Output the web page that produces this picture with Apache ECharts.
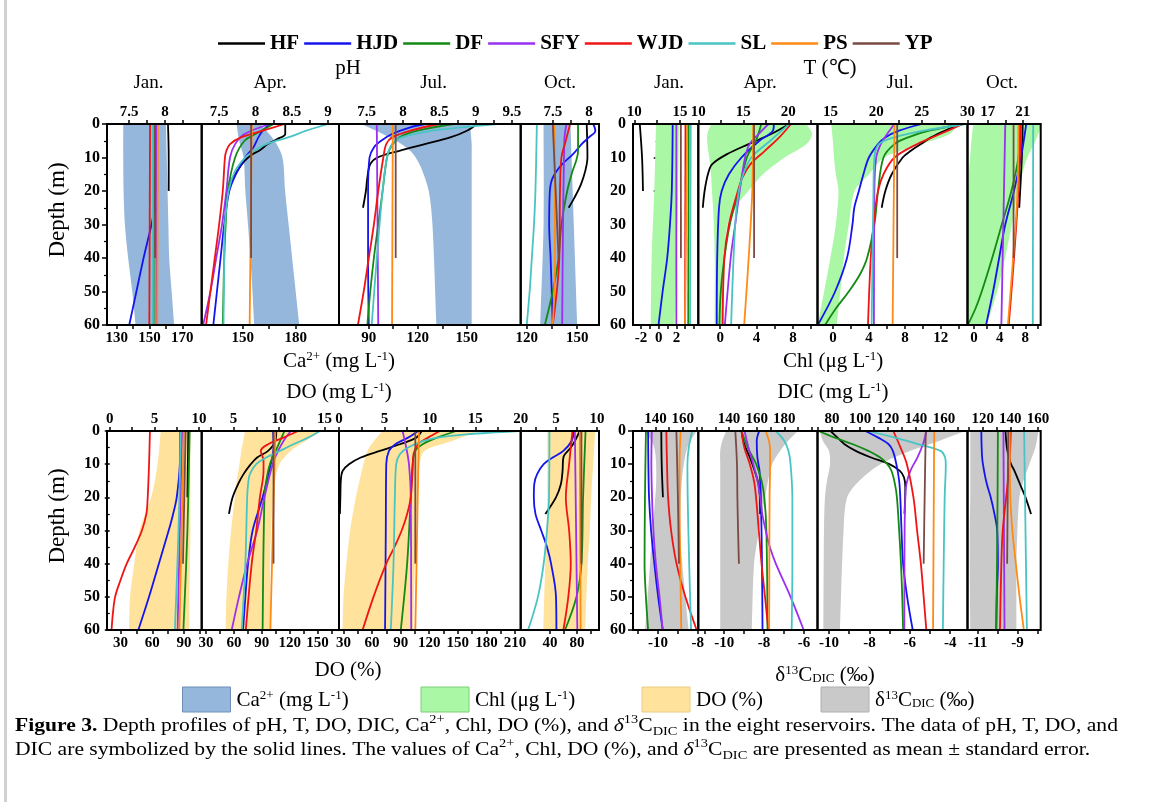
<!DOCTYPE html>
<html><head><meta charset="utf-8">
<script src="https://cdn.jsdelivr.net/npm/echarts/dist/echarts.min.js"></script>
<style>html,body{margin:0;padding:0;background:#fff}#c{width:1167px;height:802px}</style>
</head><body><div id="c"></div>
<script>
// ---------------- DATA ----------------
const RES = ['HF','HJD','DF','SFY','WJD','SL','PS','YP'];
const RES_COLORS = ['#000000','#1414f0','#138a13','#9b30f0','#f01414','#48c4c4','#ff8a14','#7a4a44'];
const MONTHS = ['Jan.','Apr.','Jul.','Oct.'];

// line profiles: one entry per reservoir (RES order), points are [depth, value]
const PH_JAN = [
 [[0,8.04],[10,8.05],[20,8.05]],
 [[0,7.87],[20,7.86],[25,7.85],[30,7.81],[40,7.7],[50,7.6],[60,7.5]],
 [[0,7.84],[60,7.84]],
 [[0,7.88],[60,7.88]],
 [[0,7.79],[60,7.78]],
 [[0,7.83],[60,7.83]],
 [[0,7.9],[60,7.89]],
 [[0,7.86],[40,7.86]]];
const PH_APR = [
 [[0,8.41],[3,8.41],[4.5,8.3],[6,8.17],[8,8.05],[9,7.96],[11,7.85],[15,7.72],[18,7.64],[25,7.59]],
 [[0,8.2],[2,8.1],[4,8.04],[7,7.97],[10,7.86],[15,7.73],[20,7.64],[30,7.57],[40,7.52],[50,7.47],[60,7.42]],
 [[0,8.25],[3,8.0],[5,7.85],[10,7.72],[20,7.62],[30,7.59],[40,7.57],[50,7.56],[60,7.55]],
 [[0,8.2],[3,7.85],[6,7.72],[10,7.65],[20,7.6],[30,7.54],[40,7.46],[50,7.38],[60,7.28]],
 [[0,8.4],[2,8.1],[4,7.8],[6,7.65],[8,7.6],[10,7.58],[20,7.55],[30,7.5],[40,7.44],[50,7.38],[60,7.32]],
 [[0,9.0],[2,8.7],[4,8.45],[6,8.15],[8,7.98],[10,7.86],[14,7.72],[20,7.63],[30,7.58],[40,7.57],[60,7.56]],
 [[0,7.95],[60,7.92]],
 [[0,7.94],[40,7.94]]];
const PH_JUL = [
 [[0,9.02],[2,8.88],[4,8.65],[6,8.3],[8,7.95],[10,7.65],[12,7.55],[16,7.51],[20,7.49],[25,7.45]],
 [[0,8.3],[1,8.1],[3,7.85],[5,7.7],[7,7.6],[10,7.54],[20,7.52],[40,7.52],[60,7.53]],
 [[0,8.7],[2,8.2],[4,7.95],[7,7.83],[10,7.78],[20,7.72],[30,7.66],[40,7.6],[50,7.55],[60,7.51]],
 [[0,7.64],[60,7.66]],
 [[0,8.5],[2,8.1],[4,7.85],[6,7.77],[10,7.73],[20,7.66],[30,7.6],[40,7.53],[50,7.46],[60,7.38]],
 [[0,9.3],[1,8.8],[2,8.4],[4,7.98],[6,7.85],[10,7.78],[20,7.72],[40,7.64],[60,7.57]],
 [[0,7.86],[60,7.85]],
 [[0,7.9],[40,7.9]]];
const PH_OCT = [
 [[0,7.97],[10,7.98],[14,7.95],[18,7.89],[22,7.8],[25,7.72]],
 [[0,8.06],[2,8.09],[4,8.0],[6,7.9],[9,7.78],[12,7.63],[16,7.5],[20,7.46],[30,7.45],[40,7.47],[60,7.5]],
 [[0,7.85],[8,7.85],[15,7.76],[20,7.7],[30,7.62],[40,7.58],[50,7.5],[60,7.39]],
 [[0,7.69],[5,7.66],[60,7.63]],
 [[0,7.74],[5,7.68],[10,7.62],[20,7.6],[40,7.59],[60,7.5]],
 [[0,7.28],[20,7.26],[30,7.24],[40,7.21],[50,7.18],[60,7.14]],
 [[0,7.52],[20,7.53],[40,7.53],[60,7.5]],
 [[0,7.5],[40,7.58]]];

const T_JAN = [
 [[0,10.6],[10,10.85],[20,10.95]],
 [[0,14.2],[20,14.1],[30,13.9],[40,13.6],[50,13.1],[60,12.65]],
 [[0,15.95],[60,15.9]],
 [[0,14.6],[60,14.6]],
 [[0,15.6],[60,15.55]],
 [[0,16.17],[60,16.1]],
 [[0,15.78],[60,15.55]],
 [[0,15.09],[40,15.1]]];
const T_APR = [
 [[0,20.1],[3,18.1],[6,15.6],[9,13.2],[12,11.55],[15,11.07],[20,10.7],[25,10.5]],
 [[0,18.4],[2,18.3],[5,16.8],[10,14.8],[15,13.4],[20,12.6],[25,12.3],[40,12.1],[60,12.05]],
 [[0,17.0],[5,16.4],[10,15.4],[20,14.5],[30,13.5],[40,12.9],[50,12.5],[60,12.35]],
 [[0,17.8],[3,16.7],[6,15.7],[10,15.2],[20,14.6],[30,14.1],[40,13.6],[60,12.95]],
 [[0,20.3],[4,19.0],[8,17.4],[12,15.8],[16,14.9],[20,14.4],[30,13.4],[40,12.9],[60,12.7]],
 [[0,20.1],[5,18.0],[10,15.9],[15,15.0],[20,14.5],[30,14.1],[60,13.65]],
 [[0,16.1],[20,16.0],[40,15.6],[60,15.1]],
 [[0,16.2],[40,16.2]]];
const T_JUL = [
 [[0,29.3],[2,27.5],[4,26.0],[6,24.9],[8,23.8],[10,22.9],[15,21.7],[20,21.0],[25,20.6]],
 [[0,25.0],[2,22.5],[4,21.0],[6,20.2],[10,19.2],[15,18.6],[20,18.1],[25,17.6],[30,17.4],[40,16.8],[50,15.5],[60,13.6]],
 [[0,29.6],[2,25.8],[4,23.5],[6,22.0],[10,20.8],[20,20.2],[30,19.8],[40,19.0],[45,18.2],[50,17.0],[55,15.6],[60,14.4]],
 [[0,22.0],[3,21.2],[6,20.5],[10,20.0],[20,19.8],[60,19.75]],
 [[0,29.5],[3,27.0],[6,24.5],[10,22.0],[15,20.8],[20,20.2],[30,19.7],[40,19.4],[60,19.1]],
 [[0,29.8],[2,25.2],[4,22.0],[6,20.3],[10,19.8],[20,19.7],[60,19.5]],
 [[0,22.0],[60,21.8]],
 [[0,22.3],[40,22.3]]];
const T_OCT = [
 [[0,21.0],[10,20.9],[25,20.6]],
 [[0,21.4],[10,20.8],[20,20.0],[30,19.0],[40,18.3],[50,17.6],[60,16.8]],
 [[0,20.7],[10,20.5],[20,19.7],[30,18.6],[40,17.5],[50,16.3],[55,15.6],[60,14.7]],
 [[0,19.0],[60,18.55]],
 [[0,20.8],[20,20.5],[40,20.0],[60,19.4]],
 [[0,22.2],[60,22.15]],
 [[0,20.5],[20,20.4],[40,19.9],[60,19.3]],
 [[0,19.95],[40,19.95]]];

const DO_JAN = [
 [[0,8.8],[20,8.7]],
 [[0,7.9],[10,7.85],[20,7.5],[25,7.1],[30,6.6],[40,5.5],[50,4.4],[60,3.2]],
 [[0,8.95],[30,8.7],[60,8.25]],
 [[0,8.1],[60,7.6]],
 [[0,4.5],[10,4.4],[20,4.25],[25,4.1],[30,3.6],[35,2.8],[40,1.9],[45,1.2],[50,0.6],[55,0.35],[60,0.2]],
 [[0,7.95],[30,7.7],[60,7.3]],
 [[0,8.3],[60,7.8]],
 [[0,8.5],[40,8.2]]];
const DO_APR = [
 [[0,9.7],[3,9.6],[6,8.8],[8,7.6],[10,6.9],[13,6.1],[16,5.5],[20,4.9],[25,4.5]],
 [[0,9.35],[5,9.4],[10,9.1],[20,8.2],[30,7.1],[40,6.6],[50,6.3],[60,6.05]],
 [[0,10.6],[5,9.8],[10,9.0],[15,8.6],[20,8.4],[60,8.2]],
 [[0,11.3],[3,10.5],[6,9.9],[10,9.3],[20,8.4],[30,7.6],[40,6.5],[50,5.6],[60,4.8]],
 [[0,12.1],[2,10.5],[4,8.8],[6,8.0],[9,8.3],[12,8.3],[20,7.9],[30,7.5],[40,7.0],[60,6.35]],
 [[0,14.5],[2,13.2],[4,11.6],[6,10.1],[8,8.6],[10,7.5],[13,6.8],[16,6.6],[20,6.5],[40,6.3],[60,5.9]],
 [[0,9.6],[60,9.05]],
 [[0,9.4],[40,9.4]]];
const DO_JUL = [
 [[0,9.1],[2,8.5],[4,6.7],[6,4.5],[8,2.4],[10,1.1],[12,0.4],[15,0.2],[20,0.15],[25,0.1]],
 [[0,8.7],[2,7.6],[4,6.2],[6,5.5],[10,5.2],[30,5.15],[60,5.07]],
 [[0,12.9],[2,10.8],[4,9.2],[6,8.4],[10,8.1],[20,7.9],[40,7.5],[60,6.8]],
 [[0,7.0],[5,7.4],[10,7.7],[20,7.9],[60,7.95]],
 [[0,11.1],[2,9.8],[4,8.7],[7,8.2],[12,8.1],[20,7.9],[25,7.5],[30,6.9],[35,6.1],[40,5.2],[50,3.8],[60,2.6]],
 [[0,19.8],[1,14.0],[2,10.8],[3,9.3],[5,7.6],[7,6.7],[10,6.3],[20,6.15],[40,6.0],[60,5.7]],
 [[0,8.8],[60,8.4]],
 [[0,8.4],[40,8.4]]];
const DO_OCT = [
 [[0,7.9],[3,7.3],[5,6.8],[8,5.9],[12,5.8],[16,5.6],[20,5.0],[25,3.7]],
 [[0,7.2],[3,6.9],[6,5.9],[8,4.6],[10,3.5],[13,2.7],[16,2.35],[20,2.3],[25,2.5],[30,3.2],[35,3.9],[40,4.4],[50,5.0],[60,5.05]],
 [[0,8.6],[20,8.3],[40,8.1],[50,7.5],[60,6.1]],
 [[0,7.3],[60,7.6]],
 [[0,7.0],[10,6.6],[20,6.2],[30,6.6],[40,6.8],[50,6.5],[60,5.9]],
 [[0,4.2],[20,4.15],[30,3.9],[40,3.5],[50,2.8],[60,1.6]],
 [[0,7.9],[60,8.0]],
 [[0,8.1],[40,8.1]]];

const DIC_JAN = [
 [[0,144.3],[10,144.6],[20,145.5]],
 [[0,134.6],[10,134.8],[20,135.3],[30,136.8],[40,139.2],[50,142],[60,145.4]],
 [[0,133.0],[20,132.3],[40,132.0],[50,133],[60,134.6]],
 [[0,137.3],[10,137],[20,137.5],[30,138.5],[40,140.3],[50,143],[60,145.3]],
 [[0,148],[10,148.5],[20,149.3],[30,151.5],[40,155.5],[50,162],[60,170.3]],
 [[0,167],[5,164.5],[10,163.5],[20,163.7],[40,164.8],[60,166.2]],
 [[0,158.5],[10,157.7],[30,157.9],[60,159]],
 [[0,155.4],[20,156.5],[40,157.3]]];
const DIC_APR = [
 [[0,149],[4,151],[8,155],[12,158.5],[16,161.3],[20,162.3],[25,162.5]],
 [[0,161.8],[3,160],[8,160.5],[12,162],[20,163],[40,163.8],[60,164.2]],
 [[0,149],[5,153.5],[10,159.6],[15,163.5],[20,165.5],[30,167],[60,167.8]],
 [[0,151.2],[5,154],[10,157.5],[15,160.5],[20,162.5],[25,164],[30,166.5],[35,169.5],[40,173.8],[50,184.5],[60,194]],
 [[0,149],[5,151],[10,155],[15,158],[20,159.5],[30,161.5],[40,163.5],[50,166],[60,168.4]],
 [[0,173.8],[3,180],[6,183],[10,184.5],[20,185.8],[40,185.8],[60,185.3]],
 [[0,166.5],[5,169.6],[10,169.7],[20,169.3],[60,169]],
 [[0,144.5],[10,145.7],[20,146],[30,146.5],[40,147.1]]];
const DIC_JUL = [
 [[0,79],[2,84],[4,89],[6,97],[8,108],[10,121],[12,128.5],[14,131.5],[17,132.4],[25,131.8]],
 [[0,104],[2,113],[4,120.5],[6,123.5],[10,126],[15,128],[20,128.8],[30,129.7],[40,130.8],[50,133.7],[60,137.7]],
 [[0,70.5],[2,82],[4,95],[6,106],[8,114.5],[10,119.5],[12,122.5],[16,125],[20,126.4],[30,128],[40,129.3],[50,130.2],[60,130.8]],
 [[0,147.5],[4,145],[8,141],[12,136],[16,133.2],[20,132.4],[30,131.9],[60,131.7]],
 [[0,123.8],[5,129],[10,133.5],[20,138.2],[30,140.8],[40,143.5],[50,145.5],[60,147.4]],
 [[0,106],[2,125],[4,142],[6,157.5],[8,160.8],[10,161.3],[20,160.5],[40,159.8],[60,159.2]],
 [[0,153],[60,152.2]],
 [[0,147],[20,146.2],[40,145.5]]];
const DIC_OCT = [
 [[0,136.5],[5,137.5],[8,139],[10,140.5],[12,143],[15,146],[18,149],[20,151],[25,155]],
 [[0,119],[8,119.6],[12,121],[16,123],[20,125.8],[25,128.5],[30,130.5],[40,131],[50,130.2],[60,129.8]],
 [[0,131],[30,130.6],[60,129.8]],
 [[0,135],[60,135.8]],
 [[0,140.4],[10,139.3],[20,137],[30,134.5],[40,133.5],[60,132.5]],
 [[0,150],[60,152]],
 [[0,139.5],[20,140],[30,141.5],[40,144],[50,146.7],[60,149.8]],
 [[0,138.5],[40,137.7]]];

// mean ± SE bands: [depth, lower, upper]
const CA_JAN = [[0,134,160],[10,134,160.5],[20,134.2,161],[30,135,161.5],[40,137,162],[50,139.5,163.5],[60,141.5,165]];
const CA_APR = [[0,146.5,160],[5,148,168],[10,150.5,172.5],[20,151.5,174],[30,153,176],[45,155,179],[60,156.5,182]];
const CA_JUL = [[0,85.7,152],[3,98.6,152.5],[6,110,153],[9,117.3,153],[13,122,153],[20,126.7,153],[30,129,153],[60,131.4,153]];
const CA_OCT = [[0,130,146],[30,130,148],[60,128,150]];
const CHL_JAN = [[0,-0.3,2.3],[20,-0.5,2.2],[40,-0.8,2.0],[60,-0.9,1.8]];
const CHL_APR = [[0,-1.0,9.5],[3,-1.4,10.1],[6,-1.4,9.5],[10,-1.2,7.1],[15,-1.0,4.7],[20,-0.9,3.1],[24,-0.8,1.9],[30,-0.7,0.8],[40,-0.6,0.5],[60,-0.6,0.4]];
const CHL_JUL = [[0,-0.2,13.9],[3,-0.1,13.0],[6,0,9.8],[10,0.1,5.7],[15,0.3,4.0],[20,0.6,2.4],[30,0.3,1.75],[40,-0.3,1.2],[50,-1.0,0.8],[60,-1.74,0.4]];
const CHL_OCT = [[0,-0.1,10.6],[5,-0.4,9.6],[10,-0.6,8.3],[15,-0.8,7.5],[20,-0.9,6.85],[30,-1.0,5.9],[40,-1.05,4.85],[50,-1.05,3.6],[60,-1.05,2.0]];
const DOP_JAN = [[0,68,96],[10,65,96],[20,59,96],[30,48,96],[40,43,95.5],[50,39,95],[60,38,95]];
const DOP_APR = [[0,72,154],[3,70,137],[6,68,121],[10,66,109],[15,63,104],[20,61,102],[30,57,100],[40,54,99],[50,52,99],[60,51,99]];
const DOP_JUL = [[0,71,172],[3,62,144],[6,55,115],[10,51,110],[20,43,108],[30,37,106],[40,33,105],[50,30,104],[60,29,103]];
const DOP_OCT = [[0,36,107],[10,36,104],[20,36,101],[30,35,99],[40,33,96],[60,30,92]];
const D13_JAN = [[0,-10.65,-8.06],[5,-10.19,-8.52],[15,-10.09,-8.8],[30,-10.28,-8.89],[45,-10.46,-8.7],[60,-10.65,-8.46]];
const D13_APR = [[0,-9.9,-6.3],[3,-10.1,-6.8],[6,-10.2,-7.2],[10,-10.2,-7.6],[15,-10.2,-7.8],[20,-10.2,-7.95],[30,-10.2,-8.25],[40,-10.2,-8.5],[60,-10.2,-8.62]];
const D13_JUL = [[0,-10.46,-3.27],[3,-10.3,-4.55],[6,-10.0,-6.0],[10,-9.95,-7.46],[15,-10.1,-8.5],[20,-10.2,-9.1],[30,-10.25,-9.28],[60,-10.28,-9.46]];
const D13_OCT = [[0,-11.37,-7.94],[5,-11.37,-8.1],[10,-11.37,-8.4],[15,-11.37,-8.7],[20,-11.37,-8.9],[30,-11.4,-9.0],[40,-11.4,-9.05],[60,-11.37,-9.05]];

// axis ranges and tick labels (per month)
const PH_AX  = [{min:7.19,max:8.51,lab:[7.5,8],tk:[7.5,7.75,8,8.25]},{min:7.26,max:9.15,lab:[7.5,8,8.5,9],tk:[7.5,7.75,8,8.25,8.5,8.75,9]},{min:7.12,max:9.62,lab:[7.5,8,8.5,9,9.5],tk:[7.5,7.75,8,8.25,8.5,8.75,9,9.25,9.5]},{min:7.056,max:8.14,lab:[7.5,8],tk:[7.5,7.75,8]}];
const CA_AX  = [{min:124.1,max:181.8,lab:[130,150,170],tk:[130,140,150,160,170]},{min:126.8,max:204.5,lab:[150,180],tk:[150,165,180]},{min:71.8,max:183,lab:[90,120,150],tk:[90,105,120,135,150]},{min:116.4,max:163,lab:[120,150],tk:[120,135,150]}];
const T_AX   = [{min:9.86,max:17.0,lab:[10,15],tk:[10,12.5,15]},{min:10,max:23.25,lab:[10,15,20],tk:[10,12.5,15,17.5,20,22.5]},{min:13.57,max:30,lab:[15,20,25,30],tk:[15,17.5,20,22.5,25,27.5,30]},{min:14.67,max:23.06,lab:[17,21],tk:[17,19,21]}];
const CHL_AX = [{min:-2.91,max:4.48,lab:[-2,0,2],tk:[-2,-1,0,1,2,3,4]},{min:-2.4,max:10.7,lab:[0,4,8],tk:[0,2,4,6,8,10]},{min:-1.74,max:14.98,lab:[0,4,8,12],tk:[0,2,4,6,8,10,12,14]},{min:-1.01,max:10.4,lab:[0,4,8],tk:[0,2,4,6,8,10]}];
const DO_AX  = [{min:-0.31,max:10.3,lab:[0,5,10],tk:[0,2.5,5,7.5,10]},{min:1.5,max:16.6,lab:[5,10,15],tk:[2.5,5,7.5,10,12.5,15]},{min:0,max:20,lab:[0,5,10,15,20],tk:[0,2.5,5,7.5,10,12.5,15,17.5,20]},{min:0.7,max:10.24,lab:[5,10],tk:[2.5,5,7.5,10]}];
const DOP_AX = [{min:17.2,max:106.7,lab:[30,60,90],tk:[30,45,60,75,90,105]},{min:25.4,max:173,lab:[30,60,90,120,150],tk:[30,45,60,75,90,105,120,135,150,165]},{min:25.3,max:216,lab:[30,60,90,120,150,180,210],tk:[30,45,60,75,90,105,120,135,150,165,180,195,210]},{min:-3.4,max:112.6,lab:[40,80],tk:[40,60,80,100]}];
const DIC_AX = [{min:123.5,max:171.5,lab:[140,160],tk:[130,140,150,160,170]},{min:117.7,max:204,lab:[140,160,180],tk:[120,130,140,150,160,170,180,190,200]},{min:69.7,max:176.8,lab:[80,100,120,140,160],tk:[70,80,90,100,110,120,130,140,150,160,170]},{min:109,max:162,lab:[120,140,160],tk:[110,120,130,140,150,160]}];
const D13_AX = [{min:-11.26,max:-7.97,lab:[-10,-8],tk:[-11,-10,-9,-8]},{min:-11.3,max:-5.32,lab:[-10,-8,-6],tk:[-11,-10,-9,-8,-7,-6]},{min:-10.57,max:-3.14,lab:[-10,-8,-6,-4],tk:[-10,-9,-8,-7,-6,-5,-4]},{min:-11.51,max:-7.83,lab:[-11,-9],tk:[-11,-10,-9,-8]}];
const DEPTH_LABELS = [0,10,20,30,40,50,60];

// ---------------- LAYOUT ----------------
const SERIF = 'Liberation Serif';
const COLS_L = [107, 201.7, 339, 520.7, 599];
const COLS_R = [633, 698.3, 817.5, 967.5, 1040.7];
const GROUPS = [
  {cols:COLS_L, top:124, h:201, topAx:PH_AX, botAx:CA_AX, lines:[PH_JAN,PH_APR,PH_JUL,PH_OCT], bands:[CA_JAN,CA_APR,CA_JUL,CA_OCT], band:'#95b7dc'},
  {cols:COLS_R, top:124, h:201, topAx:T_AX, botAx:CHL_AX, lines:[T_JAN,T_APR,T_JUL,T_OCT], bands:[CHL_JAN,CHL_APR,CHL_JUL,CHL_OCT], band:'#aaf7a6'},
  {cols:COLS_L, top:431, h:199, topAx:DO_AX, botAx:DOP_AX, lines:[DO_JAN,DO_APR,DO_JUL,DO_OCT], bands:[DOP_JAN,DOP_APR,DOP_JUL,DOP_OCT], band:'#ffe39c'},
  {cols:COLS_R, top:431, h:199, topAx:DIC_AX, botAx:D13_AX, lines:[DIC_JAN,DIC_APR,DIC_JUL,DIC_OCT], bands:[D13_JAN,D13_APR,D13_JUL,D13_OCT], band:'#c9c9c9'}
];

const grid=[], xAxis=[], yAxis=[], series=[];
const lblStyle = {color:'#000', fontFamily:SERIF, fontWeight:'bold', fontSize:15};
function xAx(gi, pos, ax){
  return {gridIndex:gi, type:'value', position:pos, min:ax.min, max:ax.max,
    axisLine:{show:false}, splitLine:{show:false},
    axisTick:{show:true, customValues:ax.tk, length:4, lineStyle:{color:'#000', width:1.5}},
    axisLabel:Object.assign({customValues:ax.lab, margin:pos==='top'?4:6}, lblStyle)};
}
GROUPS.forEach((G, g) => {
  for (let c = 0; c < 4; c++) {
    const gi = g*4 + c;
    grid.push({left:G.cols[c], top:G.top, width:G.cols[c+1]-G.cols[c], height:G.h,
      show:true, borderColor:'#000', borderWidth:2, backgroundColor:'transparent', z:5});
    xAxis.push(xAx(gi, 'top', G.topAx[c]));
    xAxis.push(xAx(gi, 'bottom', G.botAx[c]));
    yAxis.push({gridIndex:gi, type:'value', inverse:true, min:0, max:60, interval:10,
      axisLine:{show:false}, splitLine:{show:false},
      axisTick:{show:c===0, length:5, lineStyle:{color:'#000', width:1.5}},
      minorTick:{show:c===0, splitNumber:2, length:3, lineStyle:{color:'#000', width:1.2}},
      axisLabel:Object.assign({show:c===0, margin:7,
        formatter: v => DEPTH_LABELS.indexOf(v) >= 0 ? String(v) : ''}, lblStyle, {fontSize:16})});
    const rows = G.bands[c];
    const color = G.band;
    series.push({type:'custom', xAxisIndex:2*gi+1, yAxisIndex:gi, clip:true, silent:true, z:1,
      data: rows.map(r => [r[1], r[0], r[2]]),
      renderItem: (params, api) => {
        if (params.dataIndex !== 0) return null;
        const lo = rows.map(r => api.coord([r[1], r[0]]));
        const hi = rows.map(r => api.coord([r[2], r[0]])).reverse();
        const pts = [lo[0]].concat(lo, [lo[lo.length-1], hi[0]], hi, [hi[hi.length-1]]);
        return {type:'polygon', shape:{points:pts, smooth:0.3}, style:{fill:color}};
      }});
    G.lines[c].forEach((pts, i) => {
      series.push({type:'line', name:RES[i], xAxisIndex:2*gi, yAxisIndex:gi,
        data: pts.map(p => [p[1], p[0]]), symbol:'none', showSymbol:false, smooth:0.35,
        clip:true, z:3, silent:true,
        lineStyle:{color:RES_COLORS[i], width:1.8}, itemStyle:{color:RES_COLORS[i]}});
    });
  }
});

// ---------------- TEXTS ----------------
const rich = {
  n:{fontFamily:SERIF, fontSize:21, fill:'#000'},
  s:{fontFamily:SERIF, fontSize:13, fill:'#000', verticalAlign:'top'},
  b:{fontFamily:SERIF, fontSize:13, fill:'#000', verticalAlign:'bottom'}
};
function txt(x, y, text, size, rot){
  return {type:'text', x:x, y:y, rotation:rot||0, silent:true, style:{text:text, fill:'#000',
    font:(size||20)+'px "'+SERIF+'"', textAlign:'center', textVerticalAlign:'middle'}};
}
function richTxt(x, y, text, align){
  return {type:'text', x:x, y:y, silent:true, style:{text:text, rich:rich, fill:'#000',
    font:'21px "'+SERIF+'"', textAlign:align||'center', textVerticalAlign:'middle'}};
}
const graphics = [
  {type:'rect', shape:{x:4, y:0, width:3, height:802}, style:{fill:'#d0d0d0'}, silent:true},
  txt(348, 68, 'pH', 21), txt(830, 68, 'T (℃)', 21),
  txt(58, 210, 'Depth (m)', 23, Math.PI/2), txt(58, 516, 'Depth (m)', 23, Math.PI/2),
  richTxt(339, 361, '{n|Ca}{s|2+}{n| (mg L}{s|-1}{n|)}'),
  richTxt(339, 392, '{n|DO (mg L}{s|-1}{n|)}'),
  richTxt(833, 361, '{n|Chl (μg L}{s|-1}{n|)}'),
  richTxt(833, 392, '{n|DIC (mg L}{s|-1}{n|)}'),
  txt(348, 670, 'DO (%)', 21),
  richTxt(825, 675, '{n|δ}{s|13}{n|C}{b|DIC}{n| (‰)}')
];
const monthX = [[148.5,270,433.6,560],[669,760,900,1002]];
monthX.forEach(arr => arr.forEach((x, i) => graphics.push(txt(x, 83, MONTHS[i], 19))));
// band legend
const bandLeg = [
  {x:182.5, fill:'#95b7dc', stroke:'#6f8fb8', t:'{n|Ca}{s|2+}{n| (mg L}{s|-1}{n|)}'},
  {x:421, fill:'#aaf7a6', stroke:'#7ccf78', t:'{n|Chl (μg L}{s|-1}{n|)}'},
  {x:642, fill:'#ffe39c', stroke:'#e9cc84', t:'{n|DO (%)}'},
  {x:821, fill:'#c9c9c9', stroke:'#b0b0b0', t:'{n|δ}{s|13}{n|C}{b|DIC}{n| (‰)}'}
];
bandLeg.forEach(b => {
  graphics.push({type:'rect', shape:{x:b.x, y:687, width:48, height:25}, style:{fill:b.fill, stroke:b.stroke, lineWidth:1}, silent:true});
  graphics.push(richTxt(b.x+54, 700, b.t, 'left'));
});
const capRich = {
  bb:{fontFamily:SERIF, fontSize:18, fontWeight:'bold', fill:'#000', lineHeight:24},
  n:{fontFamily:SERIF, fontSize:18, fill:'#000', lineHeight:24},
  i:{fontFamily:SERIF, fontSize:18, fontStyle:'italic', fill:'#000', lineHeight:24},
  s:{fontFamily:SERIF, fontSize:12, fill:'#000', verticalAlign:'top', lineHeight:24},
  b:{fontFamily:SERIF, fontSize:12, fill:'#000', verticalAlign:'bottom', lineHeight:24}
};
graphics.push({type:'text', x:15, y:714, scaleX:1.2, scaleY:1, silent:true, style:{rich:capRich, fill:'#000', font:'18px "'+SERIF+'"', textAlign:'left', textVerticalAlign:'top',
  text:'{bb|Figure 3.}{n| Depth profiles of pH, T, DO, DIC, Ca}{s|2+}{n|, Chl, DO (%), and }{i|δ}{s|13}{n|C}{b|DIC}{n| in the eight reservoirs. The data of pH, T, DO, and}\n{n|DIC are symbolized by the solid lines. The values of Ca}{s|2+}{n|, Chl, DO (%), and }{i|δ}{s|13}{n|C}{b|DIC}{n| are presented as mean ± standard error.}'}});

const chart = echarts.init(document.getElementById('c'), null, {renderer:'canvas'});
chart.setOption({
  animation:false,
  backgroundColor:'#fff',
  legend:{data:RES, top:28, left:213, itemWidth:47, itemHeight:2.5, itemGap:5, icon:'rect', selectedMode:false,
    textStyle:{fontFamily:SERIF, fontWeight:'bold', fontSize:21, color:'#000'}},
  grid, xAxis, yAxis, series, graphic:graphics
});
</script></body></html>
